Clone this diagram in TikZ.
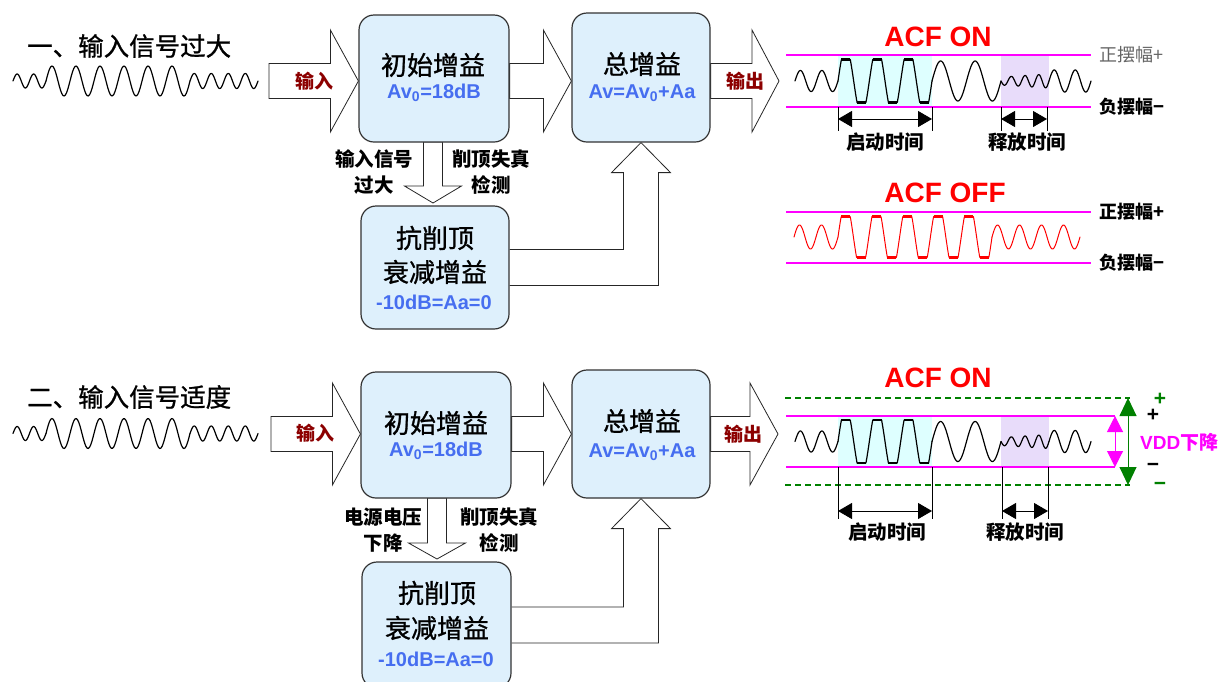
\documentclass[tikz,border=0pt]{standalone}
\usepackage{fontspec}
\setmainfont{Liberation Sans}
\newfontfamily\cjk{Noto Sans CJK SC}
\newfontfamily\cjkm{Noto Sans CJK SC}[FakeBold=1.0]
\usetikzlibrary{arrows.meta,calc,backgrounds}
\definecolor{boxblue}{RGB}{222,240,252}
\definecolor{valblue}{RGB}{70,110,240}
\definecolor{iored}{RGB}{140,0,0}
\definecolor{mag}{RGB}{255,0,255}
\definecolor{cyanbg}{RGB}{222,255,255}
\definecolor{lavbg}{RGB}{232,220,250}
\definecolor{dgreen}{RGB}{0,128,0}
\definecolor{gtext}{RGB}{100,100,100}
\tikzset{
  box/.style={draw=black!80, line width=1.2pt, fill=boxblue, rounded corners=15pt, inner sep=0pt},
  fat/.style={draw=black!85, line width=0.8pt, fill=white, line join=miter},
  ttl/.style={font=\cjkm\fontsize{25.5}{25.5}\selectfont, inner sep=0pt},
  big/.style={font=\cjkm\fontsize{26}{26}\selectfont, inner sep=0pt},
  val/.style={font=\bfseries\fontsize{20}{20}\selectfont, text=valblue, inner sep=0pt},
  lab/.style={font=\cjk\bfseries\fontsize{19.5}{19.5}\selectfont, inner sep=0pt},
  io/.style={font=\cjk\bfseries\fontsize{19}{19}\selectfont, text=iored, inner sep=0pt},
  acf/.style={font=\bfseries\fontsize{28}{28}\selectfont, text=red, inner sep=0pt},
  swl/.style={font=\cjk\fontsize{18}{18}\selectfont, inner sep=0pt, anchor=west},
  swing/.style={draw=mag, line width=2.5pt},
  gdash/.style={draw=dgreen, line width=1.8pt, dash pattern=on 6pt off 4pt},
  wave/.style={line width=1.2pt, line cap=round, line join=round},
  redw/.style={draw=red, line width=1pt, line cap=round, line join=round},
  flat/.style={line width=2.6pt},
  rflat/.style={draw=red, line width=2.6pt},
  tick/.style={line width=0.8pt},
  dim/.style={line width=0.9pt, {Triangle[length=14pt,width=16pt]}-{Triangle[length=14pt,width=16pt]}},
}
% sine segment: style, x0, x1, period, amplitude, centre y
\newcommand\sw[6]{\draw[#1] plot[domain=#2:#3, samples=120, variable=\t] (\t,{#6-(#5)*sin((360/(#4))*(\t-#2))});}
% clipped sine: style, x0, x1, period, amp, clip, centre y
\newcommand\cw[7]{\draw[#1] plot[domain=#2:#3, samples=400, variable=\t] (\t,{#7-max(-(#6),min(#6,(#5)*sin((360/(#4))*(\t-#2))))});}
\newcommand\onwave[1]{%
  \sw{wave}{795}{838}{21.5}{10.5}{#1}
  \cw{wave}{838}{932}{31.333}{34}{21.5}{#1}
  \foreach \k in {0,1,2}{
    \draw[flat] ({838+\k*31.333+3.4},{#1-21.5}) -- ({838+\k*31.333+12.2},{#1-21.5});
    \draw[flat] ({838+\k*31.333+19.1},{#1+21.5}) -- ({838+\k*31.333+27.9},{#1+21.5});
  }
  \sw{wave}{932}{1001}{34.5}{20}{#1}
  \sw{wave}{1001}{1049}{13.714}{-(4+3*(\t-1001)/48)}{#1}
  \sw{wave}{1049}{1091}{21}{11}{#1}
}
\newcommand\inwave[1]{%
  \sw{wave}{13}{46}{16.5}{7}{#1}
  \sw{wave}{46}{190}{24}{15}{#1}
  \sw{wave}{190}{258}{17}{7.5}{#1}
}
% horizontal fat arrow: tail, tip, head length
\newcommand\hfat[3]{\path[fat] ($(#1)+(0,-17.5)$) -- ($(#2)+(-#3,-17.5)$) -- ($(#2)+(-#3,-51)$) -- (#2) -- ($(#2)+(-#3,51)$) -- ($(#2)+(-#3,17.5)$) -- ($(#1)+(0,17.5)$) -- cycle;}
% vertical fat arrow downward: tail, tip, head length
\newcommand\vfat[3]{\path[fat] ($(#1)+(-9.5,0)$) -- ($(#2)+(-9.5,-#3)$) -- ($(#2)+(-28.5,-#3)$) -- (#2) -- ($(#2)+(28.5,-#3)$) -- ($(#2)+(9.5,-#3)$) -- ($(#1)+(9.5,0)$) -- cycle;}
% L-shaped fat arrow: from box (east) to tip (south of target)
\newcommand\lfat[2]{\path[fat] ($(#1.east)+(0,-18)$) -| ($(#2.south)+(-17.5,30)$) -- ++(-12,0) -- (#2.south) -- ($(#2.south)+(29.5,30)$) -- ++(-12,0) |- ($(#1.east)+(0,18)$);}
\begin{document}
\begin{tikzpicture}[x=1pt,y=-1pt]
\useasboundingbox (0,0) rectangle (1220,681);
\clip (0,0) rectangle (1220,681);

% ================= TOP =================
\node[ttl, anchor=west] (ti1) at (27,46) {一、输入信号过大};
\inwave{81}

\node[box, minimum width=150pt, minimum height=127pt] (b1) at (434,78.5) {};
\node[box, minimum width=138pt, minimum height=129pt] (b2) at (641,77.5) {};
\node[box, minimum width=148pt, minimum height=123pt] (b3) at (435,267.5) {};

\coordinate (ta) at (269,81);
\coordinate (tip1) at (b1.west |- ta);
\coordinate (m1s) at (b1.east |- ta);
\coordinate (m1t) at (b2.west |- ta);
\coordinate (o1s) at (b2.east |- ta);
\coordinate (o1t) at (779,81);
\coordinate (d1s) at (433,142);
\coordinate (d1t) at (433,203);
\begin{scope}[on background layer]
  \hfat{ta}{tip1}{28}
  \hfat{m1s}{m1t}{28}
  \hfat{o1s}{o1t}{27}
  \vfat{d1s}{d1t}{17}
  \lfat{b3}{b2}
\end{scope}

\node[big] (t1a) at (433,65) {初始增益};
\node[val] (t1b) at (434,93) {Av\textsubscript{0}=18dB};
\node[big] (t2a) at (642,64) {总增益};
\node[val] (t2b) at (642,93) {Av=Av\textsubscript{0}+Aa};
\node[big] (t3a) at (435,238) {抗削顶};
\node[big] (t3b) at (435,272) {衰减增益};
\node[val] (t3c) at (434,302) {-10dB=Aa=0};
\node[io] (in1) at (314,81) {输入};
\node[io] (out1) at (745,81) {输出};
\node[lab] (l1a) at (374,159) {输入信号};
\node[lab] (l1b) at (374,185) {过大};
\node[lab] (l1c) at (491,159) {削顶失真};
\node[lab] (l1d) at (491,185) {检测};

% ACF ON (top)
\node[acf] (acf1) at (938,37) {ACF ON};
\fill[cyanbg] (838,55) rectangle (932,107);
\fill[lavbg] (1001,55) rectangle (1049,107);
\coordinate (pa1) at (786,55); \coordinate (pb1) at (1091,55);
\coordinate (na1) at (786,107); \coordinate (nb1) at (1091,107);
\draw[swing] (pa1) -- (pb1);
\draw[swing] (na1) -- (nb1);
\node[swl, text=gtext] (sp1) at (1099,55) {正摆幅+};
\node[swl, font=\cjk\bfseries\fontsize{18}{18}\selectfont] (sn1) at (1099,107) {负摆幅−};
\onwave{81}
\coordinate (k1) at (838,107); \coordinate (k2) at (932,107);
\coordinate (k3) at (1001,107); \coordinate (k4) at (1047,107);
\foreach \c in {k1,k2,k3,k4} \draw[tick] (\c) -- ++(0,24);
\draw[dim] ($(k1)+(0,12)$) -- ($(k2)+(0,12)$);
\draw[dim] ($(k3)+(0,12)$) -- ($(k4)+(0,12)$);
\node[lab] (st1) at (885,142) {启动时间};
\node[lab] (rt1) at (1027,142) {释放时间};

% ACF OFF
\node[acf] (acf2) at (945,193) {ACF OFF};
\coordinate (pa2) at (786,212); \coordinate (pb2) at (1091,212);
\coordinate (na2) at (786,263); \coordinate (nb2) at (1091,263);
\draw[swing] (pa2) -- (pb2);
\draw[swing] (na2) -- (nb2);
\node[swl, font=\cjk\bfseries\fontsize{18}{18}\selectfont] (sp2) at (1099,212) {正摆幅+};
\node[swl, font=\cjk\bfseries\fontsize{18}{18}\selectfont] (sn2) at (1099,263) {负摆幅−};
\sw{redw}{794}{838}{22}{12}{237}
\cw{redw}{838}{992}{30.8}{34}{20.5}{237}
\foreach \k in {0,...,4}{
  \draw[rflat] ({838+\k*30.8+3.2},216.5) -- ({838+\k*30.8+12.2},216.5);
  \draw[rflat] ({838+\k*30.8+18.6},257.5) -- ({838+\k*30.8+27.6},257.5);
}
\sw{redw}{992}{1080}{22}{12}{237}

% ================= BOTTOM =================
\node[ttl, anchor=west] (ti2) at (27,397) {二、输入信号适度};
\inwave{433.5}

\node[box, minimum width=150pt, minimum height=126pt] (b4) at (436,435) {};
\node[box, minimum width=138pt, minimum height=128pt] (b5) at (641,434) {};
\node[box, minimum width=149pt, minimum height=126pt] (b6) at (436.5,625) {};

\coordinate (tb) at (271,434);
\coordinate (tip2) at (b4.west |- tb);
\coordinate (m2s) at (b4.east |- tb);
\coordinate (m2t) at (b5.west |- tb);
\coordinate (o2s) at (b5.east |- tb);
\coordinate (o2t) at (778,434);
\coordinate (d2s) at (437,498);
\coordinate (d2t) at (437,559);
\begin{scope}[on background layer]
  \hfat{tb}{tip2}{28}
  \hfat{m2s}{m2t}{28}
  \hfat{o2s}{o2t}{28}
  \vfat{d2s}{d2t}{16}
  \lfat{b6}{b5}
\end{scope}

\node[big] (t4a) at (436,423) {初始增益};
\node[val] (t4b) at (436,451) {Av\textsubscript{0}=18dB};
\node[big] (t5a) at (642,421) {总增益};
\node[val] (t5b) at (642,452) {Av=Av\textsubscript{0}+Aa};
\node[big] (t6a) at (437,593) {抗削顶};
\node[big] (t6b) at (437,628) {衰减增益};
\node[val] (t6c) at (436,659) {-10dB=Aa=0};
\node[io] (in2) at (315,433) {输入};
\node[io] (out2) at (743,434) {输出};
\node[lab] (l2a) at (383,517) {电源电压};
\node[lab] (l2b) at (383,543) {下降};
\node[lab] (l2c) at (499,517) {削顶失真};
\node[lab] (l2d) at (499,543) {检测};

% ACF ON (bottom)
\node[acf] (acf3) at (938,378) {ACF ON};
\fill[cyanbg] (838,416) rectangle (932,467);
\fill[lavbg] (1001,416) rectangle (1049,467);
\coordinate (ga) at (785,398); \coordinate (gb) at (1130,398);
\coordinate (gc) at (785,485); \coordinate (gd) at (1130,485);
\draw[gdash] (ga) -- (gb);
\draw[gdash] (gc) -- (gd);
\coordinate (pa3) at (786,416); \coordinate (pb3) at (1115,416);
\coordinate (na3) at (786,467); \coordinate (nb3) at (1115,467);
\draw[swing] (pa3) -- (pb3);
\draw[swing] (na3) -- (nb3);
\onwave{441.5}
\coordinate (k5) at (838,467); \coordinate (k6) at (932,467);
\coordinate (k7) at (1002,467); \coordinate (k8) at (1048,467);
\foreach \c in {k5,k6,k7,k8} \draw[tick] (\c) -- ++(0,52);
\draw[dim] ($(k5)+(0,44)$) -- ($(k6)+(0,44)$);
\draw[dim] ($(k7)+(0,44)$) -- ($(k8)+(0,44)$);
\node[lab] (st2) at (887,532) {启动时间};
\node[lab] (rt2) at (1025,532) {释放时间};

\coordinate (va) at (1128,398); \coordinate (vb) at (1128,485);
\draw[dgreen, line width=1pt, {Triangle[length=18pt,width=17pt]}-{Triangle[length=18pt,width=17pt]}] (va) -- (vb);
\coordinate (vc) at (1115,416); \coordinate (vd) at (1115,467);
\draw[mag, line width=1pt, {Triangle[length=16pt,width=16pt]}-{Triangle[length=16pt,width=16pt]}] (vc) -- (vd);
\node[font=\bfseries\fontsize{21}{21}\selectfont, text=dgreen, inner sep=0pt] (gp) at (1160,399) {+};
\node[font=\bfseries\fontsize{21}{21}\selectfont, inner sep=0pt] (bp) at (1153,415) {+};
\node[font=\bfseries\fontsize{21}{21}\selectfont, inner sep=0pt] (bm) at (1153,467) {−};
\node[font=\bfseries\fontsize{21}{21}\selectfont, text=dgreen, inner sep=0pt] (gm) at (1160,486) {−};
\node[anchor=west, font=\bfseries\fontsize{19}{19}\selectfont, text=mag, inner sep=0pt] (vdd) at (1140,442) {VDD{\cjk 下降}};
\end{tikzpicture}
\end{document}
